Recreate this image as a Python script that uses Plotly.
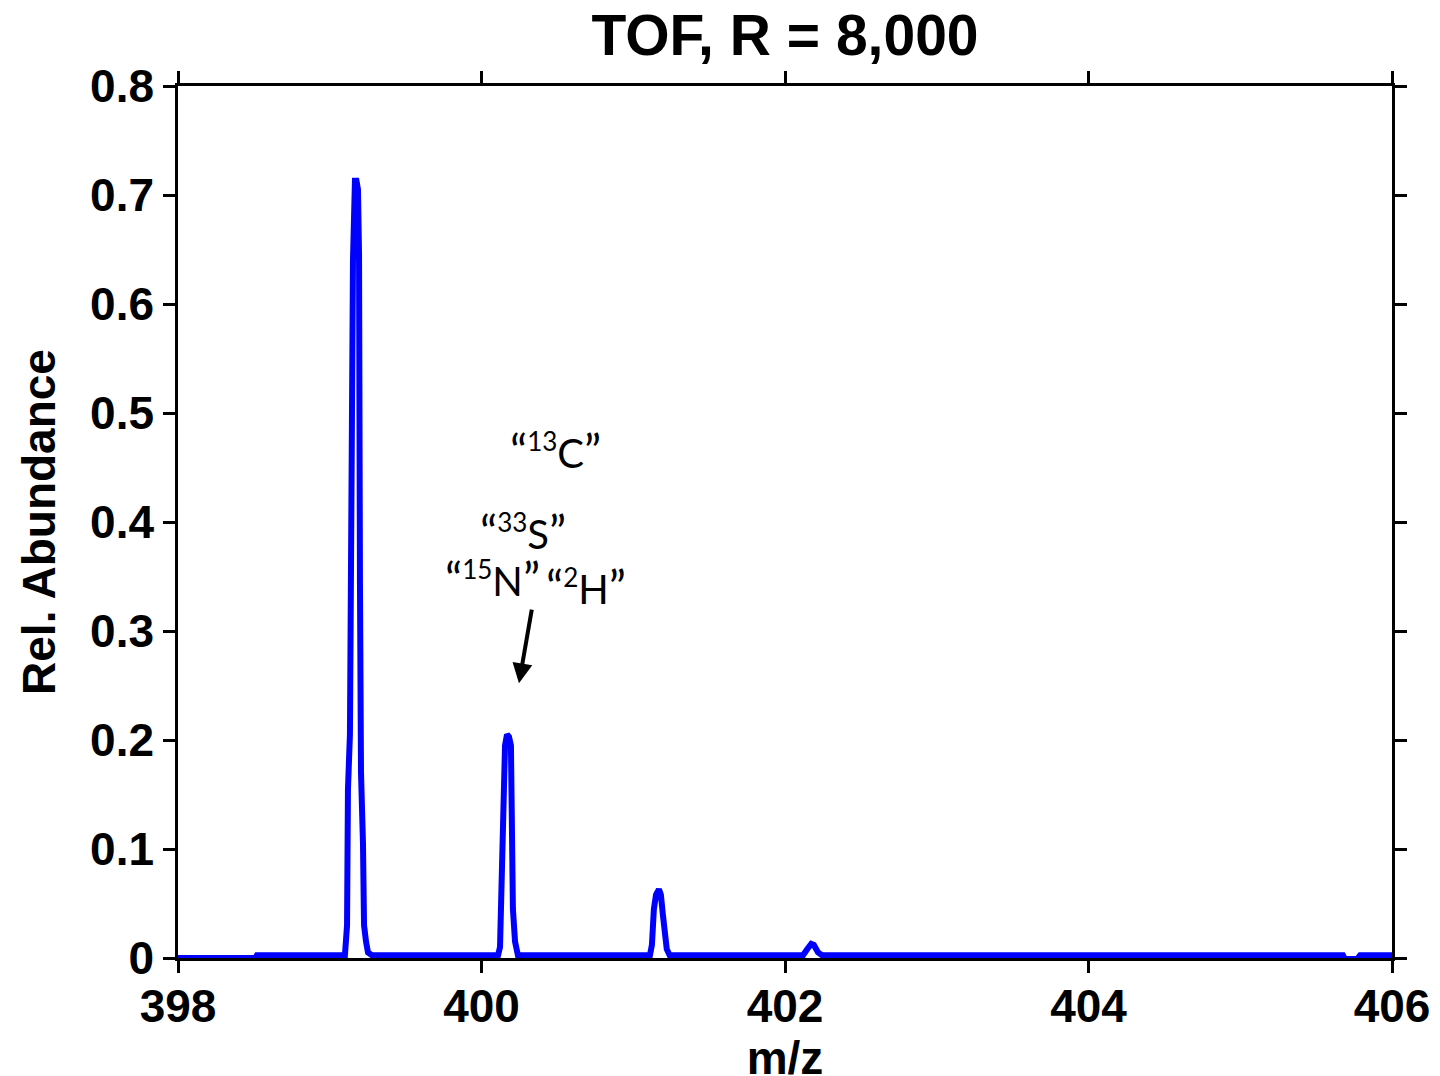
import plotly.graph_objects as go

# m/z and relative abundance
mz = [398.0, 398.51, 398.52,
      399.10, 399.114, 399.12, 399.133, 399.14, 399.153, 399.166, 399.176, 399.186,
      399.193, 399.199, 399.206, 399.219, 399.226, 399.239, 399.252, 399.278,
      400.109, 400.122, 400.128, 400.135, 400.142, 400.155, 400.168, 400.181,
      400.194, 400.201, 400.207, 400.221, 400.240,
      401.110, 401.123, 401.136, 401.150, 401.169, 401.182, 401.195, 401.208,
      401.221, 401.240,
      402.119, 402.146, 402.173, 402.190, 402.218, 402.244,
      405.677, 405.69, 405.77, 405.79, 406.0]
abundance = [0.0, 0.0, 0.0025,
             0.0025, 0.03, 0.155, 0.205, 0.37, 0.64, 0.713, 0.713, 0.705,
             0.645, 0.345, 0.17, 0.105, 0.03, 0.015, 0.005, 0.0025,
             0.0025, 0.01, 0.045, 0.10, 0.17, 0.195, 0.205, 0.203,
             0.195, 0.12, 0.045, 0.015, 0.0025,
             0.0025, 0.012, 0.045, 0.058, 0.063, 0.058, 0.04, 0.02,
             0.008, 0.0025,
             0.0025, 0.008, 0.013, 0.012, 0.005, 0.0025,
             0.0025, -0.001, -0.001, 0.0025, 0.0025]

title_text = "TOF, R = 8,000"
x_label = "m/z"
y_label = "Rel. Abundance"
x_ticks = [398, 400, 402, 404, 406]
y_ticks = [0, 0.1, 0.2, 0.3, 0.4, 0.5, 0.6, 0.7, 0.8]
y_tick_text = ["0", "0.1", "0.2", "0.3", "0.4", "0.5", "0.6", "0.7", "0.8"]

SUP = '<sup><span style="font-size:26px">{}</span></sup>'
QL = '<span style="font-size:47px">“</span>'
QR = '<span style="font-size:47px">”</span>'
label_mass = ["13", "33", "15", "2"]
label_elem = ["C", "S", "N", "H"]
label_x = [400.49, 400.275, 400.07, 400.69]
label_y = [0.466, 0.392, 0.349, 0.341]
arrow_head = (400.247, 0.252)
arrow_tail = (400.333, 0.321)

ARIAL = "Liberation Sans, Arial, sans-serif"

fig = go.Figure()
fig.add_trace(go.Scatter(x=mz, y=abundance, mode="lines",
                         line=dict(color="#0000ff", width=6), showlegend=False))

for m, e, xx, yy in zip(label_mass, label_elem, label_x, label_y):
    fig.add_annotation(x=xx, y=yy, xref="x", yref="y",
                       text=QL + SUP.format(m) + e + QR, showarrow=False, borderpad=0,
                       font=dict(family="Lato, Open Sans, sans-serif", size=40, color="black"),
                       xanchor="center", yanchor="middle")

fig.add_annotation(x=arrow_head[0], y=arrow_head[1], ax=arrow_tail[0], ay=arrow_tail[1],
                   xref="x", yref="y", axref="x", ayref="y", text="", showarrow=True,
                   arrowhead=2, arrowsize=1.0, arrowwidth=4, arrowcolor="black")

axis_common = dict(showline=True, linecolor="black", linewidth=2.5, mirror="ticks",
                   ticks="outside", ticklen=12, tickwidth=2.5, tickcolor="black",
                   showgrid=False, zeroline=False, automargin=False,
                   tickfont=dict(family=ARIAL, size=46, color="black", weight="bold"))

fig.update_layout(
    width=1440, height=1076,
    paper_bgcolor="white", plot_bgcolor="white",
    margin=dict(l=170, r=56, t=78, b=126),
    title=dict(text=title_text, x=0.5396, xref="container", y=1 - 27 / 1076,
               yref="container", xanchor="center", yanchor="middle",
               font=dict(family=ARIAL, size=57, color="black", weight="bold")),
    xaxis=dict(range=[398, 406], tickvals=x_ticks, ticklabelstandoff=-6,
               title=dict(text=x_label, standoff=12,
                          font=dict(family=ARIAL, size=46, color="black", weight="bold")),
               **axis_common),
    yaxis=dict(range=[0, 0.8], tickvals=y_ticks, ticktext=y_tick_text,
               title=dict(text=y_label, standoff=20,
                          font=dict(family=ARIAL, size=46, color="black", weight="bold")),
               **axis_common),
)

fig.write_html("out.html")
